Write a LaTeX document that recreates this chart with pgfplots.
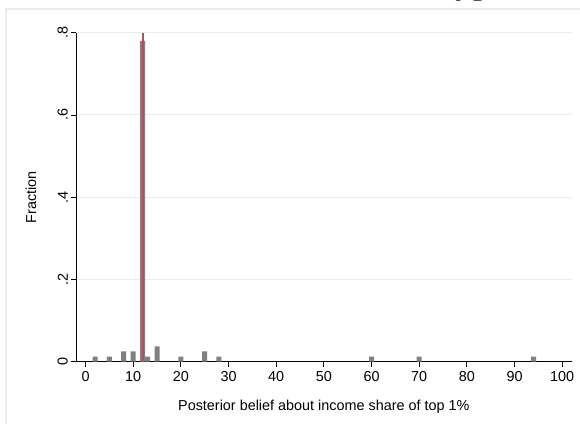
\documentclass[border=0pt]{standalone}
\usepackage{pgfplots}
\pgfplotsset{compat=1.18}
\usepackage{fontspec}
\setmainfont{Liberation Sans}
\newfontfamily\titleserif{Liberation Serif}
\definecolor{framec}{RGB}{230,238,241}
\definecolor{gridc}{RGB}{228,238,240}
\definecolor{barc}{RGB}{128,128,128}
\definecolor{redl}{RGB}{180,78,88}
\pgfplotstableread{
x y
2 0.0125
5 0.0125
8 0.025
10 0.025
12 0.78
13 0.0125
15 0.0375
20 0.0125
25 0.025
28 0.0125
60 0.0125
70 0.0125
94 0.0125
}\histdata
\begin{document}
\begin{tikzpicture}[x=1pt,y=1pt]
\useasboundingbox (0,0) rectangle (580,423);
\draw[framec, line width=1.2pt] (6,-5) -- (6,414) -- (590,414);
\node[anchor=base west, inner sep=0pt, font=\titleserif\fontsize{36}{36}\selectfont] at (455,429) {ypt};
\begin{axis}[
  at={(76pt,61.3pt)}, anchor=south west,
  scale only axis, width=495.7pt, height=329pt,
  xmin=-2, xmax=102, ymin=0, ymax=0.8,
  axis x line*=bottom, axis y line*=left,
  axis line style={black, line width=0.9pt},
  xtick={0,10,...,100},
  ytick={0,0.2,0.4,0.6,0.8},
  yticklabels={0,.2,.4,.6,.8},
  tick align=outside, major tick length=5pt,
  tick style={black, line width=0.8pt},
  ymajorgrids, grid style={gridc, line width=1pt},
  /pgf/number format/assume math mode=true,
  tick label style={font=\fontsize{14.4}{14.4}\selectfont},
  yticklabel style={rotate=90, anchor=south, inner sep=0pt},
  yticklabel shift=3pt,
  xticklabel style={inner sep=0pt, yshift=-5pt},
  label style={font=\fontsize{14.4}{14.4}\selectfont},
  xlabel={Posterior belief about income share of top 1\%},
  ylabel={Fraction},
  xlabel style={inner sep=0pt, yshift=-18pt},
  ylabel style={at={(axis description cs:0,0.5)}, anchor=center, yshift=45pt, inner sep=0pt},
  clip=false,
]
\addplot[ybar, bar width=1.05, fill=barc, draw=none] table[x=x, y=y] {\histdata};
\addplot[redl, line width=2pt] coordinates {(12.07,0) (12.07,0.8)};
\end{axis}
\end{tikzpicture}
\end{document}
